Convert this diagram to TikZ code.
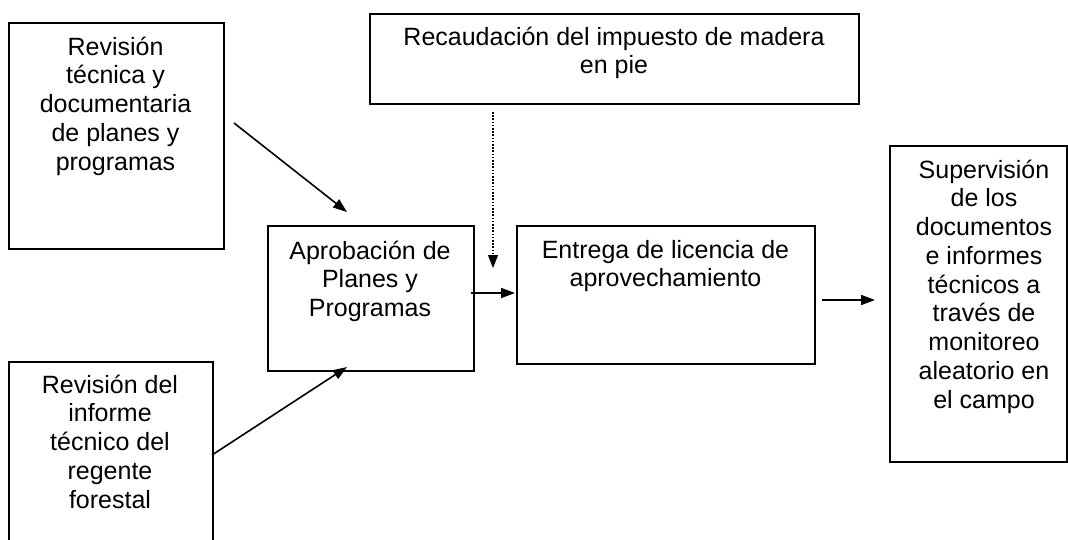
\documentclass[tikz,border=0pt]{standalone}
\usepackage{fontspec}
\setmainfont{Liberation Sans}
\usetikzlibrary{arrows.meta}
\newcommand{\fl}{\rule{0pt}{24pt}}
\tikzset{
  box/.style={draw, line width=1.8pt, rectangle, inner sep=0pt, anchor=north west},
  txt/.style={inner sep=0pt, anchor=north, align=center, font=\fontsize{25}{28.75}\selectfont},
  arr/.style={line width=1.6pt, -{Triangle[length=14pt,width=10pt]}},
  darr/.style={line width=1.1pt, dash pattern=on 1.6pt off 1.6pt, -{Triangle[length=13pt,width=10pt]}}
}
\begin{document}
\begin{tikzpicture}[x=1pt,y=-1pt]
\useasboundingbox (0,0) rectangle (1068,540);
\clip (0,0) rectangle (1068,540);
\fill[white] (0,0) rectangle (1068,540);
% boxes
\node[box, minimum width=215pt, minimum height=226pt] (b1) at (8,22) {};
\node[box, minimum width=204pt, minimum height=220pt] (b2) at (8,361) {};
\node[box, minimum width=206pt, minimum height=145pt] (b3) at (267,225) {};
\node[box, minimum width=298pt, minimum height=138pt] (b4) at (516,225) {};
\node[box, minimum width=489pt, minimum height=90pt] (b5) at (369,13) {};
\node[box, minimum width=177pt, minimum height=316pt] (b6) at (889,145) {};
% texts
\node[txt] (t1) at (115.5,31) {\fl Revisión\\técnica y\\documentaria\\de planes y\\programas};
\node[txt] (t2) at (110,369) {\fl Revisión del\\informe\\técnico del\\regente\\forestal};
\node[txt] (t3) at (370,235) {\fl Aprobación de\\Planes y\\Programas};
\node[txt] (t4) at (665.5,234) {\fl Entrega de licencia de\\aprovechamiento};
\node[txt] (t5) at (614,21) {\fl Recaudación del impuesto de madera\\en pie};
\node[txt] (t6) at (984,154) {\fl Supervisión\\de los\\documentos\\e informes\\técnicos a\\través de\\monitoreo\\aleatorio en\\el campo};
% connector end points
\coordinate (a1s) at (234,123);
\coordinate (a1e) at (347,212);
\coordinate (a2s) at (212,455);
\coordinate (a2e) at (347,367);
\coordinate (a3s) at (471,293);
\coordinate (a3e) at (515,293);
\coordinate (a4s) at (493,112);
\coordinate (a4e) at (493,268);
\coordinate (a5s) at (822,300);
\coordinate (a5e) at (875,300);
% connectors
\draw[arr] (a1s) -- (a1e);
\draw[arr] (a2s) -- (a2e);
\draw[arr] (a3s) -- (a3e);
\draw[darr] (a4s) -- (a4e);
\draw[arr] (a5s) -- (a5e);
\end{tikzpicture}
\end{document}
